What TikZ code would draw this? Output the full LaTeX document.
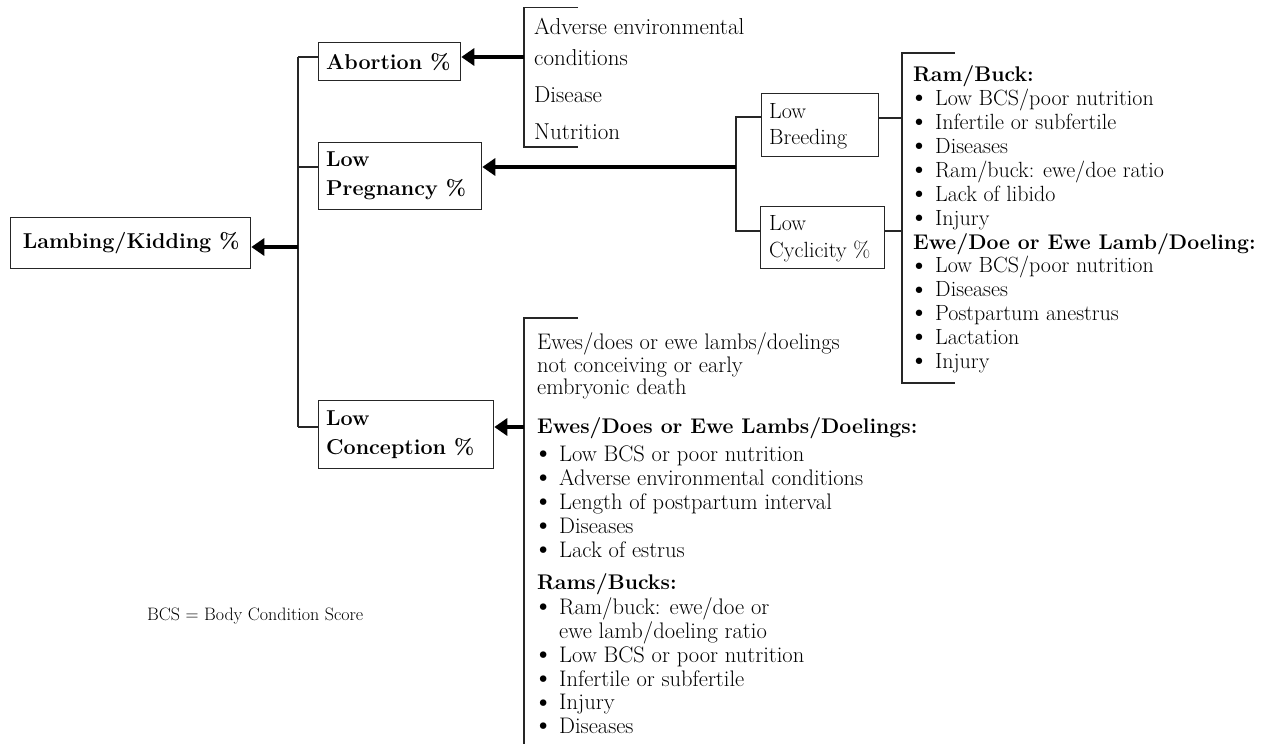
\documentclass[tikz,border=0pt]{standalone}
\usepackage{fontspec}
\newfontfamily\bulfont{DejaVu Sans}
\usetikzlibrary{arrows.meta}
\newcommand{\bulitem}{\makebox[22pt][l]{\hspace{6pt}\makebox[0pt][c]{\raisebox{-1.2pt}{\bulfont •}}}}
\newcommand{\hdtext}[1]{{\fontsize{21.2}{24}\selectfont\bfseries #1}}
\begin{document}
\begin{tikzpicture}[x=1pt,y=-1pt,
  conn/.style={line width=1.3pt, draw=black!85},
  box/.style={draw=black!85, line width=1.3pt, inner sep=0pt, anchor=north west},
  bigarrow/.style={line width=3.6pt, draw=black, -{Triangle[length=13pt,width=17pt]}},
  txt/.style={anchor=base west, inner sep=0pt, align=left},
  boldlbl/.style={txt, font=\fontsize{21.5}{29}\selectfont\bfseries},
  reglbl/.style={txt, font=\fontsize{22}{26}\selectfont},
]
\useasboundingbox (0,0) rectangle (1280,744);

% boxes
\node[box, minimum width=240pt, minimum height=51pt] (lk) at (10,217) {};
\node[box, minimum width=142pt, minimum height=38pt] (ab) at (318,42) {};
\node[box, minimum width=163pt, minimum height=67pt] (lp) at (318,142) {};
\node[box, minimum width=175pt, minimum height=68pt] (lc) at (318,400) {};
\node[box, minimum width=117pt, minimum height=63pt] (lb) at (761,93) {};
\node[box, minimum width=124pt, minimum height=62pt] (lcy) at (760,206) {};

% box labels (anchor = baseline of the last line)
\node[boldlbl] (lkt) at (22.7,248) {Lambing/Kidding \%};
\node[boldlbl] (abt) at (326,69.5) {Abortion \%};
\node[boldlbl] (lpt) at (326,195) {Low\\Pregnancy \%};
\node[boldlbl] (lct) at (326,454) {Low\\Conception \%};
\node[reglbl] (lbt) at (769,144) {Low\\Breeding};
\node[reglbl, font=\fontsize{22}{27}\selectfont] (lcyt) at (769,257) {Low\\Cyclicity \%};

% main trunk
\coordinate (tkA) at (298,57);
\coordinate (tkP) at (298,167);
\coordinate (tkL) at (298,247);
\coordinate (tkC) at (298,427);
\draw[conn] (tkA) -- (tkC);
\draw[conn] (tkA) -- (tkA -| ab.west);
\draw[conn] (tkP) -- (tkP -| lp.west);
\draw[conn] (tkC) -- (tkC -| lc.west);
\draw[bigarrow] (tkL) -- (tkL -| lk.east);

% abortion bracket
\coordinate (abT) at (524,7.7);
\coordinate (abTe) at (578,7.7);
\coordinate (abB) at (524,147);
\coordinate (abBe) at (578,147);
\coordinate (abA) at (524,57);
\draw[conn] (abTe) -- (abT) -- (abB) -- (abBe);
\draw[bigarrow] (abA) -- (abA -| ab.east);
\node[txt, font=\fontsize{23}{31}\selectfont] (abcauses) at (534,139)
  {Adverse environmental\\conditions\\[6pt]Disease\\[6pt]Nutrition};

% middle fork
\coordinate (mfT) at (736,117);
\coordinate (mfP) at (736,167);
\coordinate (mfB) at (736,231);
\draw[conn] (mfT -| lb.west) -- (mfT) -- (mfB) -- (mfB -| lcy.west);
\draw[bigarrow] (mfP) -- (mfP -| lp.east);

% right bracket
\coordinate (rbT) at (902,53);
\coordinate (rbTe) at (955,53);
\coordinate (rbB) at (902,383);
\coordinate (rbBe) at (955,383);
\coordinate (rbL) at (902,118);
\coordinate (rbC) at (902,231);
\draw[conn] (rbTe) -- (rbT) -- (rbB) -- (rbBe);
\draw[conn] (rbL -| lb.east) -- (rbL);
\draw[conn] (rbC -| lcy.east) -- (rbC);
\node[txt, font=\fontsize{22}{23.9}\selectfont] (rlist) at (913,368.5)
  {\hdtext{Ram/Buck:}\\
   \bulitem Low BCS/poor nutrition\\
   \bulitem Infertile or subfertile\\
   \bulitem Diseases\\
   \bulitem Ram/buck: ewe/doe ratio\\
   \bulitem Lack of libido\\
   \bulitem Injury\\
   \hdtext{Ewe/Doe or Ewe Lamb/Doeling:}\\
   \bulitem Low BCS/poor nutrition\\
   \bulitem Diseases\\
   \bulitem Postpartum anestrus\\
   \bulitem Lactation\\
   \bulitem Injury};

% conception bracket
\coordinate (cbT) at (524,318);
\coordinate (cbTe) at (578,318);
\coordinate (cbB) at (524,744);
\coordinate (cbA) at (524,427);
\draw[conn] (cbTe) -- (cbT) -- (cbB);
\draw[bigarrow] (cbA) -- (cbA -| lc.east);
\node[txt, font=\fontsize{22.5}{22.5}\selectfont] (lcA) at (537,394.7)
  {Ewes/does or ewe lambs/doelings\\not conceiving or early\\embryonic death};
\node[txt, font=\fontsize{22.5}{24}\selectfont] (lcB) at (537,557.7)
  {\hdtext{Ewes/Does or Ewe Lambs/Doelings:}\\[4pt]
   \bulitem Low BCS or poor nutrition\\
   \bulitem Adverse environmental conditions\\
   \bulitem Length of postpartum interval\\
   \bulitem Diseases\\
   \bulitem Lack of estrus};
\node[txt, font=\fontsize{22.5}{23.8}\selectfont] (lcC) at (537,733.7)
  {\hdtext{Rams/Bucks:}\\[1.2pt]
   \bulitem Ram/buck: ewe/doe or\\
   \hspace*{22pt}ewe lamb/doeling ratio\\
   \bulitem Low BCS or poor nutrition\\
   \bulitem Infertile or subfertile\\
   \bulitem Injury\\
   \bulitem Diseases};

% footnote
\node[txt, font=\fontsize{18}{20}\selectfont] (bcs) at (147,620) {BCS = Body Condition Score};
\end{tikzpicture}
\end{document}
